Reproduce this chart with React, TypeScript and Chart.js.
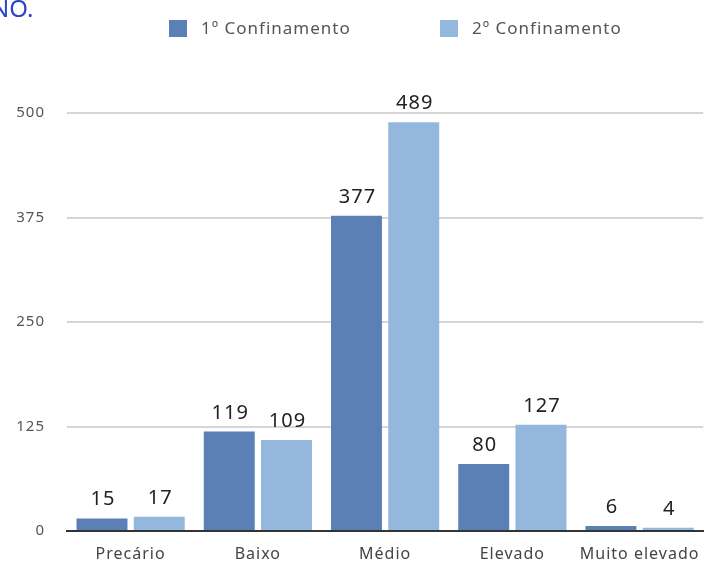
import React, { useEffect, useRef } from "react";
import { Chart, registerables } from "chart.js";

Chart.register(...registerables);

const categories = ["Precário", "Baixo", "Médio", "Elevado", "Muito elevado"];
const firstLabel = "1º Confinamento";
const secondLabel = "2º Confinamento";
const firstValues = [15, 119, 377, 80, 6];
const secondValues = [17, 109, 489, 127, 4];
const yTicks = [0, 125, 250, 375, 500];

const FIRST_COLOR = "#5a80b6";
const SECOND_COLOR = "#94b7de";
const FONT = "'Noto Sans', Lato, sans-serif";

const spacing = {
  id: "spacing",
  beforeDraw(chart: any) {
    (chart.ctx as any).letterSpacing = "1px";
  },
};

const valueLabels = {
  id: "valueLabels",
  afterDatasetsDraw(chart: any) {
    const ctx = chart.ctx;
    ctx.save();
    ctx.font = `20px ${FONT}`;
    ctx.fillStyle = "#222";
    ctx.textAlign = "center";
    ctx.textBaseline = "alphabetic";
    chart.data.datasets.forEach((ds: any, i: number) => {
      const meta = chart.getDatasetMeta(i);
      meta.data.forEach((el: any, j: number) => {
        ctx.fillText(String(ds.data[j]), el.x + 1, el.y - 13);
      });
    });
    ctx.restore();
  },
};

const customLegend = {
  id: "customLegend",
  afterDraw(chart: any) {
    const ctx = chart.ctx;
    const starts = [169, 440];
    ctx.save();
    ctx.font = `17px ${FONT}`;
    ctx.textBaseline = "middle";
    ctx.textAlign = "left";
    chart.data.datasets.forEach((ds: any, i: number) => {
      const x = starts[i];
      ctx.fillStyle = ds.backgroundColor;
      ctx.fillRect(x, 20, 18, 17);
      ctx.fillStyle = "#555";
      ctx.fillText(ds.label, x + 32, 29);
    });
    ctx.restore();
  },
};

export default function App() {
  const ref = useRef<HTMLCanvasElement | null>(null);
  useEffect(() => {
    if (!ref.current) return;
    const chart = new Chart(ref.current, {
      type: "bar",
      data: {
        labels: categories,
        datasets: [
          { label: firstLabel, data: firstValues, backgroundColor: FIRST_COLOR, borderWidth: 0 },
          { label: secondLabel, data: secondValues, backgroundColor: SECOND_COLOR, borderWidth: 0 },
        ],
      },
      options: {
        responsive: false,
        animation: false,
        devicePixelRatio: 1,
        layout: { padding: { top: 113, left: 0, right: 1, bottom: 0 } },
        plugins: {
          legend: { display: false },
          tooltip: { enabled: false },
        },
        datasets: { bar: { categoryPercentage: 0.9, barPercentage: 0.89 } },
        scales: {
          x: {
            afterFit(scale: any) {
              scale.height = 34;
            },
            grid: { display: false, drawTicks: false },
            border: { display: true, color: "#333", width: 2 },
            ticks: {
              padding: 14,
              color: "#444",
              font: { family: FONT, size: 16 },
              maxRotation: 0,
              autoSkip: false,
            },
          },
          y: {
            min: 0,
            max: 500,
            afterFit(scale: any) {
              scale.width = 67;
            },
            afterBuildTicks(scale: any) {
              scale.ticks = yTicks.map((v) => ({ value: v }));
            },
            grid: { color: "#d6d6d6", lineWidth: 2, drawTicks: false },
            border: { display: false },
            ticks: {
              padding: 22,
              color: "#555",
              font: { family: FONT, size: 15 },
            },
          },
        },
      },
      plugins: [spacing, valueLabels, customLegend],
    });
    return () => chart.destroy();
  }, []);

  return (
    <div style={{ position: "absolute", left: 0, top: 0, width: 707, height: 565, background: "#fff", overflow: "hidden" }}>
      <div
        style={{
          position: "absolute",
          left: -9,
          top: -4,
          color: "#2b45c6",
          fontFamily: FONT,
          fontSize: 24,
          lineHeight: "24px",
          whiteSpace: "nowrap",
        }}
      >
        NO.
      </div>
      <canvas ref={ref} width={707} height={565} style={{ display: "block" }} />
    </div>
  );
}
